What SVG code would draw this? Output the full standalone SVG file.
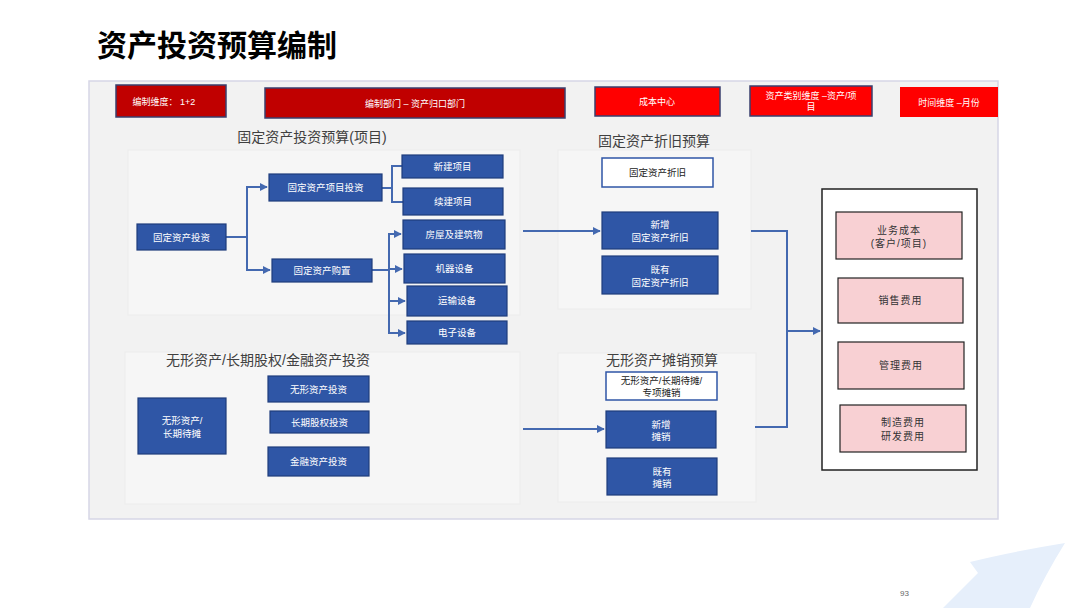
<svg xmlns="http://www.w3.org/2000/svg" width="1080" height="608" viewBox="0 0 1080 608">
<defs>
<marker id="arr" viewBox="0 0 10 10" refX="9" refY="5" markerWidth="4" markerHeight="4" orient="auto" markerUnits="strokeWidth"><path d="M0,0 L10,5 L0,10 z" fill="#4469b0"/></marker>
<style>
text{font-family:"Liberation Sans","Noto Sans CJK SC",sans-serif;}
.top{stroke:#3a3f6e;stroke-width:1.5}
.tt{fill:#fff;font-size:9px;text-anchor:middle}
.blue{fill:#2f56a6;stroke:#1f3d7c;stroke-width:1.2}
.bt{fill:#fff;font-size:9.5px;text-anchor:middle}
.wb{fill:#fff;stroke:#2f56a6;stroke-width:1.5}
.wt{fill:#222;font-size:9.5px;text-anchor:middle}
.pink{fill:#f8d0d3;stroke:#222;stroke-width:1.2}
.pt{fill:#333;font-size:10px;text-anchor:middle;letter-spacing:1px}
.sec{fill:#404040;font-size:14px}
.sub{fill:#f6f6f6;stroke:#ececec;stroke-width:1}
.c{fill:none;stroke:#4469b0;stroke-width:2}
</style>
</defs>
<rect width="1080" height="608" fill="#fff"/>
<text x="97" y="56" font-size="30" font-weight="bold" fill="#000">资产投资预算编制</text>
<path d="M970,562 Q1010,552 1065,543 Q1045,575 1030,608 L943,608 L978,573 Z" fill="#e6effb"/>
<text x="900" y="596" font-size="8" fill="#666">93</text>
<rect x="89" y="81" width="909" height="438" fill="#f2f2f2" stroke="#d6d6e6" stroke-width="1.5"/>
<rect class="sub" x="128" y="150" width="392" height="165"/>
<rect class="sub" x="558" y="150" width="193" height="159"/>
<rect class="sub" x="125" y="352" width="395" height="152"/>
<rect class="sub" x="558" y="353" width="198" height="149"/>
<g id="top1"><rect class="top" x="116" y="85" width="110" height="32" fill="#c00000"/><text class="tt" x="164" y="105">编制维度：  1+2</text></g>
<g id="top2"><rect class="top" x="265" y="88" width="300" height="30" fill="#c00000"/><text class="tt" x="415" y="107">编制部门 – 资产归口部门</text></g>
<g id="top3"><rect class="top" x="595" y="87" width="125" height="29" fill="#ff0000"/><text class="tt" x="657" y="105">成本中心</text></g>
<g id="top4"><rect class="top" x="750" y="86" width="122" height="30" fill="#ff0000"/><text class="tt" x="811" y="99">资产类别维度 –资产/项</text><text class="tt" x="811" y="110">目</text></g>
<g id="top5"><rect x="900" y="87" width="98" height="30" fill="#ff0000"/><text class="tt" x="949" y="106">时间维度 –月份</text></g>
<text class="sec" x="312" y="142" text-anchor="middle">固定资产投资预算(项目)</text>
<text class="sec" x="654" y="146" text-anchor="middle">固定资产折旧预算</text>
<text class="sec" x="268" y="365" text-anchor="middle">无形资产/长期股权/金融资产投资</text>
<text class="sec" x="662" y="365" text-anchor="middle">无形资产摊销预算</text>
<g id="connectors">
<path class="c" d="M226,237 H247 V187 H267" marker-end="url(#arr)"/>
<path class="c" d="M247,237 V270 H270" marker-end="url(#arr)"/>
<path class="c" d="M382,188 H392 V166 H402 M392,188 V202 H403"/>
<path class="c" d="M372,270 H389 V234 H401" marker-end="url(#arr)"/>
<path class="c" d="M389,269 H402" marker-end="url(#arr)"/>
<path class="c" d="M389,269 V301 H405" marker-end="url(#arr)"/>
<path class="c" d="M389,301 V333 H405" marker-end="url(#arr)"/>
<path class="c" d="M523,231 H600" marker-end="url(#arr)"/>
<path class="c" d="M523,429 H604" marker-end="url(#arr)"/>
<path class="c" d="M751,231 H787 V427 H755"/>
<path class="c" d="M787,331 H820" marker-end="url(#arr)"/>
</g>
<g id="n1"><rect class="blue" x="137" y="224" width="89" height="26"/><text class="bt" x="181.5" y="241">固定资产投资</text></g>
<g id="n2"><rect class="blue" x="269" y="174" width="113" height="27"/><text class="bt" x="325.5" y="191">固定资产项目投资</text></g>
<g id="n3"><rect class="blue" x="272" y="259" width="100" height="23"/><text class="bt" x="322" y="274">固定资产购置</text></g>
<g id="n4"><rect class="blue" x="402" y="155" width="101" height="23"/><text class="bt" x="452.5" y="170">新建项目</text></g>
<g id="n5"><rect class="blue" x="403" y="188" width="100" height="27"/><text class="bt" x="453" y="205">续建项目</text></g>
<g id="n6"><rect class="blue" x="403" y="220" width="102" height="29"/><text class="bt" x="454" y="238">房屋及建筑物</text></g>
<g id="n7"><rect class="blue" x="404" y="254" width="101" height="29"/><text class="bt" x="454.5" y="272">机器设备</text></g>
<g id="n8"><rect class="blue" x="407" y="286" width="100" height="30"/><text class="bt" x="457" y="304">运输设备</text></g>
<g id="n9"><rect class="blue" x="407" y="321" width="100" height="23"/><text class="bt" x="457" y="336">电子设备</text></g>
<g id="d1"><rect class="wb" x="602" y="158" width="111" height="29"/><text class="wt" x="657.5" y="176">固定资产折旧</text></g>
<g id="d2"><rect class="blue" x="602" y="212" width="116" height="37"/><text class="bt" x="660" y="228">新增</text><text class="bt" x="660" y="241">固定资产折旧</text></g>
<g id="d3"><rect class="blue" x="602" y="256" width="116" height="38"/><text class="bt" x="660" y="273">既有</text><text class="bt" x="660" y="286">固定资产折旧</text></g>
<g id="i1"><rect class="blue" x="138" y="398" width="88" height="56"/><text class="bt" x="182" y="424">无形资产/</text><text class="bt" x="182" y="437">长期待摊</text></g>
<g id="i2"><rect class="blue" x="268" y="376" width="101" height="26"/><text class="bt" x="318.5" y="393">无形资产投资</text></g>
<g id="i3"><rect class="blue" x="270" y="411" width="99" height="22"/><text class="bt" x="319.5" y="426">长期股权投资</text></g>
<g id="i4"><rect class="blue" x="268" y="447" width="101" height="29"/><text class="bt" x="318.5" y="465">金融资产投资</text></g>
<g id="a1"><rect class="wb" x="606" y="372" width="111" height="28"/><text class="wt" x="661.5" y="384">无形资产/长期待摊/</text><text class="wt" x="661.5" y="396">专项摊销</text></g>
<g id="a2"><rect class="blue" x="606" y="411" width="110" height="37"/><text class="bt" x="661" y="428">新增</text><text class="bt" x="661" y="440">摊销</text></g>
<g id="a3"><rect class="blue" x="607" y="458" width="110" height="37"/><text class="bt" x="662" y="475">既有</text><text class="bt" x="662" y="487">摊销</text></g>
<g id="costbox"><rect x="822" y="189" width="155" height="281" fill="#fff" stroke="#222" stroke-width="1.5"/></g>
<g id="p1"><rect class="pink" x="836" y="212" width="126" height="47"/><text class="pt" x="899" y="234">业务成本</text><text class="pt" x="899" y="247">(客户/项目)</text></g>
<g id="p2"><rect class="pink" x="838" y="278" width="125" height="45"/><text class="pt" x="900.5" y="304">销售费用</text></g>
<g id="p3"><rect class="pink" x="838" y="342" width="126" height="47"/><text class="pt" x="901" y="369">管理费用</text></g>
<g id="p4"><rect class="pink" x="840" y="405" width="126" height="47"/><text class="pt" x="903" y="426">制造费用</text><text class="pt" x="903" y="440">研发费用</text></g>
</svg>
